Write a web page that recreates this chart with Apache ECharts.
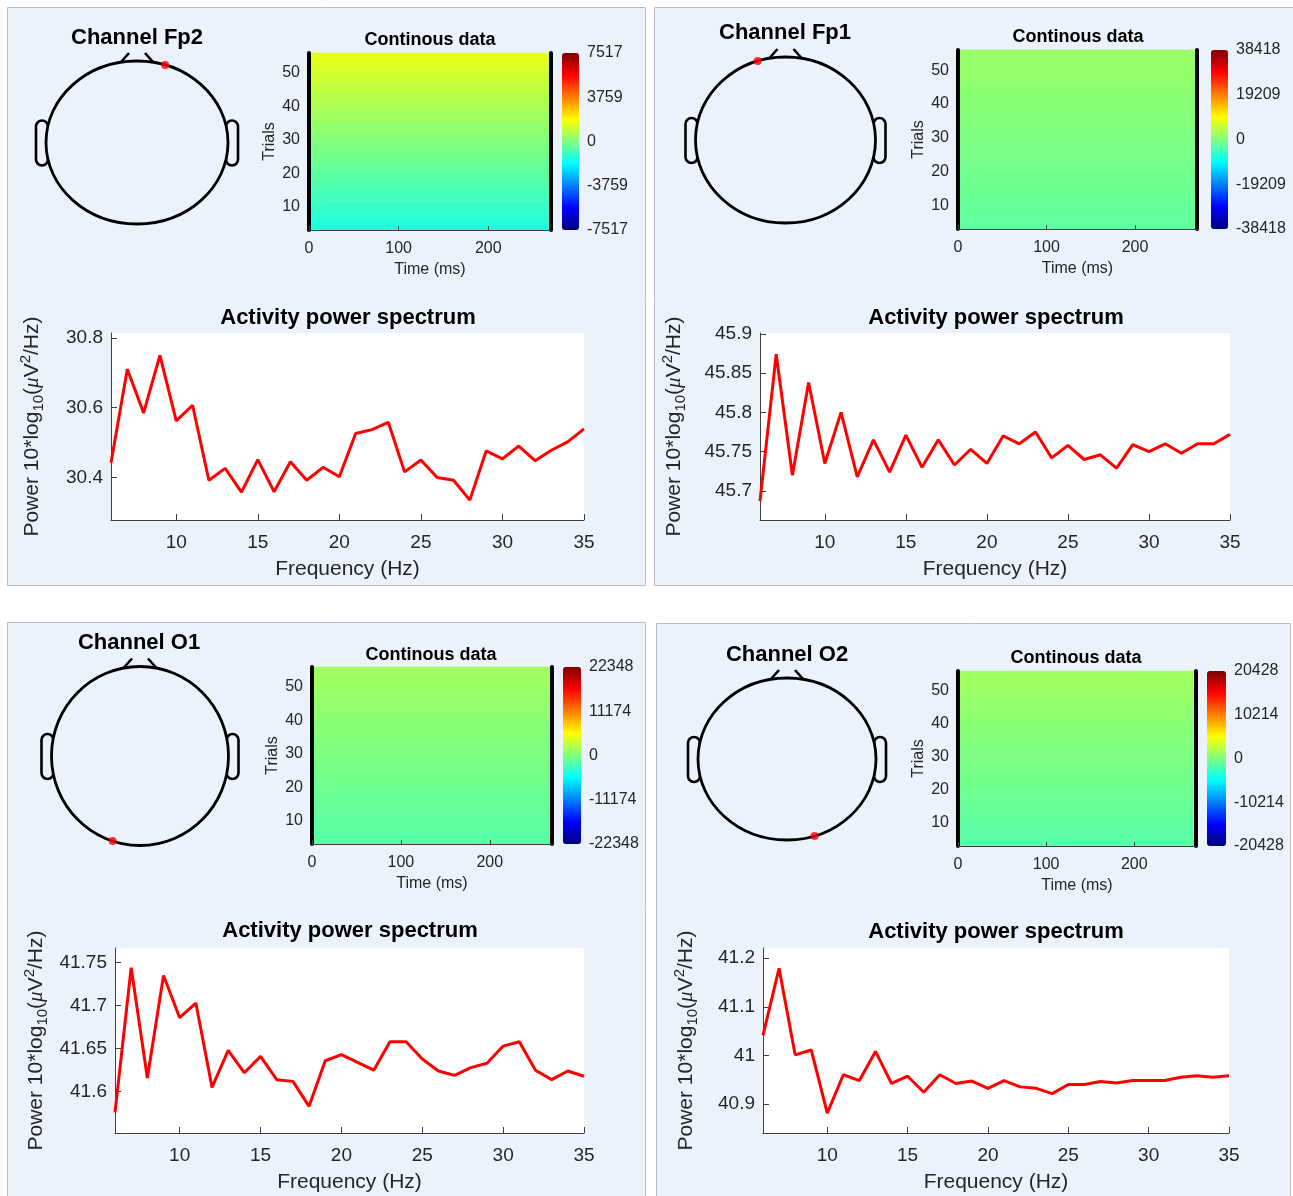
<!DOCTYPE html>
<html><head><meta charset="utf-8">
<script src="https://cdn.jsdelivr.net/npm/echarts@6/dist/echarts.min.js"></script>
<style>html,body{margin:0;padding:0;background:#fff}#c{width:1293px;height:1196px}</style>
</head><body><div id="c"></div><script>
// ---------------- data ----------------
const channels = ['Fp2', 'Fp1', 'O1', 'O2'];
const electrodeTheta = [18, -18, -162, 162];   // degrees, 0 = nose

const freqs = [6,7,8,9,10,11,12,13,14,15,16,17,18,19,20,21,22,23,24,25,26,27,28,29,30,31,32,33,34,35];
const freqTicks = [10, 15, 20, 25, 30, 35];

const powerFp2 = [30.442,30.710,30.585,30.750,30.562,30.607,30.392,30.426,30.358,30.451,30.359,30.445,30.392,30.429,30.402,30.526,30.537,30.558,30.416,30.450,30.400,30.392,30.335,30.476,30.453,30.490,30.448,30.478,30.502,30.539];
const powerFp1 = [45.687,45.874,45.720,45.838,45.735,45.800,45.718,45.765,45.724,45.771,45.730,45.765,45.733,45.753,45.735,45.770,45.760,45.775,45.742,45.758,45.740,45.746,45.729,45.759,45.750,45.760,45.748,45.760,45.760,45.772];
const powerO1  = [41.576,41.744,41.616,41.735,41.686,41.703,41.605,41.648,41.622,41.641,41.614,41.612,41.583,41.636,41.643,41.634,41.625,41.658,41.658,41.638,41.624,41.619,41.628,41.633,41.653,41.658,41.625,41.614,41.624,41.618];
const powerO2  = [41.041,41.179,41.001,41.011,40.881,40.960,40.948,41.008,40.942,40.957,40.924,40.960,40.942,40.947,40.932,40.948,40.935,40.932,40.921,40.940,40.940,40.946,40.943,40.948,40.948,40.948,40.955,40.958,40.955,40.958];

const powerRangeFp2 = [30.278, 30.814];  const powerTicksFp2 = [30.4, 30.6, 30.8];
const powerRangeFp1 = [45.663, 45.901];  const powerTicksFp1 = [45.7, 45.75, 45.8, 45.85, 45.9];
const powerRangeO1  = [41.552, 41.767];  const powerTicksO1  = [41.6, 41.65, 41.7, 41.75];
const powerRangeO2  = [40.840, 41.221];  const powerTicksO2  = [40.9, 41, 41.1, 41.2];

// continuous data image: rows of trials (bottom -> top), one time band
const trialRows = ['3','6','9','12','15','18','21','24','27','30','33','36','39','42','45','48','51','54'];
const timeBand = ['0-270'];
const trialRange = [3, 56];   const trialTicks = [10, 20, 30, 40, 50];
const timeRange = [0, 270];   const timeTicks = [0, 100, 200];

const heatFp2 = [-1400,-1230,-1060,-890,-720,-550,-380,-210,-40,130,300,470,640,810,980,1150,1320,1480];
const heatFp1 = [-2380,-2130,-1870,-1620,-1370,-1110,-860,-610,-350,-100,160,410,660,920,1170,1420,1680,1920];
const heatO1  = [-1740,-1550,-1360,-1180,-990,-800,-610,-430,-240,-50,140,330,510,700,890,1080,1260,1450];
const heatO2  = [-1590,-1420,-1250,-1070,-900,-730,-560,-390,-220,-40,130,300,470,640,810,990,1160,1330];

const colorLimits = [7517, 38418, 22348, 20428];
const cbTicksFp2 = [-7517, -3759, 0, 3759, 7517];
const cbTicksFp1 = [-38418, -19209, 0, 19209, 38418];
const cbTicksO1  = [-22348, -11174, 0, 11174, 22348];
const cbTicksO2  = [-20428, -10214, 0, 10214, 20428];

// ---------------- layout / style ----------------
const FONT = '"Liberation Sans", Arial, Helvetica, sans-serif';
const BG = '#ebf2fb';
const TXT = '#262626';
const jet = ['#00007f','#0000ff','#007fff','#00ffff','#7fff7f','#ffff00','#ff7f00','#ff0000','#7f0000'];

const layout = [
  { panel:[7,7,638,578],   ch:[137,38],  head:[137,142.5,91,81.5], heat:[309,53,242,177], heatT:[430,40],  cb:[562,53,17,177],  line:[111,333,473,187], lineT:[348,318], yGap:65 },
  { panel:[654,7,639,578], ch:[785,33],  head:[785.5,140,90,83],   heat:[958,50,239,179], heatT:[1078,37], cb:[1211,50,17,179], line:[760,333,470,187], lineT:[996,318], yGap:72 },
  { panel:[7,622,638,574], ch:[139,643], head:[140,756,88.5,89.5], heat:[312,667,240,177], heatT:[431,655], cb:[563,667,18,177], line:[115,948,469,185], lineT:[350,931], yGap:65 },
  { panel:[656,623,634,573], ch:[787,655], head:[787,759,89,81],   heat:[958,671,238,175], heatT:[1076,658], cb:[1207,671,19,175], line:[763,948,466,185], lineT:[996,932], yGap:63 }
];

const panels = [
  { power: powerFp2, range: powerRangeFp2, ticks: powerTicksFp2, heat: heatFp2, cbTicks: cbTicksFp2 },
  { power: powerFp1, range: powerRangeFp1, ticks: powerTicksFp1, heat: heatFp1, cbTicks: cbTicksFp1 },
  { power: powerO1,  range: powerRangeO1,  ticks: powerTicksO1,  heat: heatO1,  cbTicks: cbTicksO1 },
  { power: powerO2,  range: powerRangeO2,  ticks: powerTicksO2,  heat: heatO2,  cbTicks: cbTicksO2 }
];

const grid = [], xAxis = [], yAxis = [], series = [], visualMap = [], graphic = [];
const extraY = [];

function rectGrid(r, extra) {
  return Object.assign({ left: r[0], top: r[1], width: r[2], height: r[3], show: false, outerBoundsMode: 'none', containLabel: false }, extra || {});
}
function txt(x, y, text, font, z) {
  return { type: 'text', x: x, y: y, z: z || 10, silent: true,
    style: { text: text, fill: '#000', font: font, textAlign: 'center', textVerticalAlign: 'middle' } };
}
function plain(v) { return String(v); }

const yNameRich = {
  a: { fontSize: 21, lineHeight: 28, color: TXT, fontFamily: FONT },
  m: { fontSize: 21, lineHeight: 28, color: TXT, fontFamily: '"Liberation Serif", serif', fontStyle: 'italic' },
  s: { fontSize: 15, lineHeight: 15, color: TXT, fontFamily: FONT, verticalAlign: 'bottom' },
  p: { fontSize: 15, lineHeight: 15, color: TXT, fontFamily: FONT, verticalAlign: 'top' }
};

panels.forEach(function (P, p) {
  const Ly = layout[p];
  const base = p * 5;
  const lim = colorLimits[p];

  // --- grids
  grid.push(rectGrid(Ly.line, { show: true, backgroundColor: '#ffffff', borderWidth: 0 }));
  grid.push(rectGrid(Ly.heat));
  grid.push(rectGrid(Ly.heat));
  grid.push(rectGrid(Ly.cb));
  const h = Ly.head;
  grid.push(rectGrid([h[0] - h[2], h[1] - h[3], 2 * h[2], 2 * h[3]]));

  // --- power spectrum axes
  xAxis.push({ gridIndex: base, type: 'value', min: freqs[0], max: freqs[freqs.length - 1],
    axisLine: { show: true, onZero: false, lineStyle: { color: '#404040', width: 1 } },
    axisTick: { show: true, inside: true, length: 6, customValues: freqTicks, lineStyle: { color: '#404040' } },
    axisLabel: { customValues: freqTicks, margin: 13, fontSize: 19, color: TXT, fontFamily: FONT },
    splitLine: { show: false },
    name: 'Frequency (Hz)', nameLocation: 'middle', nameGap: 39,
    nameTextStyle: { fontSize: 21, color: TXT, fontFamily: FONT } });
  yAxis.push({ gridIndex: base, type: 'value', min: P.range[0], max: P.range[1],
    axisLine: { show: true, onZero: false, lineStyle: { color: '#404040', width: 1 } },
    axisTick: { show: true, inside: true, length: 6, customValues: P.ticks, lineStyle: { color: '#404040' } },
    axisLabel: { customValues: P.ticks, margin: 8, fontSize: 19, color: TXT, fontFamily: FONT },
    splitLine: { show: false },
    name: '{a|Power 10*log}{s|10}{a|(}{m|μ}{a|V}{p|2}{a|/Hz)}',
    nameLocation: 'middle', nameRotate: 90, nameGap: Ly.yGap,
    nameTextStyle: { color: TXT, fontFamily: FONT, rich: yNameRich } });

  // --- heatmap category axes (hidden)
  xAxis.push({ gridIndex: base + 1, type: 'category', data: timeBand, show: false });
  yAxis.push({ gridIndex: base + 1, type: 'category', data: trialRows, show: false });

  // --- heatmap value axes (visible ticks)
  xAxis.push({ gridIndex: base + 2, type: 'value', min: timeRange[0], max: timeRange[1], z: 5,
    axisLine: { show: true, onZero: false, lineStyle: { color: '#404040', width: 1 } },
    axisTick: { show: true, inside: true, length: 4, customValues: timeTicks, lineStyle: { color: '#404040' } },
    axisLabel: { customValues: timeTicks, margin: 11, fontSize: 16, color: TXT, fontFamily: FONT },
    splitLine: { show: false },
    name: 'Time (ms)', nameLocation: 'middle', nameGap: 32,
    nameTextStyle: { fontSize: 16, color: TXT, fontFamily: FONT } });
  yAxis.push({ gridIndex: base + 2, type: 'value', min: trialRange[0], max: trialRange[1], position: 'left', z: 5,
    axisLine: { show: true, onZero: false, lineStyle: { color: '#000', width: 4 } },
    axisTick: { show: false },
    axisLabel: { customValues: trialTicks, margin: 9, fontSize: 16, color: TXT, fontFamily: FONT },
    splitLine: { show: false },
    name: 'Trials', nameLocation: 'middle', nameRotate: 90, nameGap: 31,
    nameTextStyle: { fontSize: 16, color: TXT, fontFamily: FONT } });
  extraY.push({ gridIndex: base + 2, type: 'value', min: trialRange[0], max: trialRange[1], position: 'right', z: 5,
    axisLine: { show: true, onZero: false, lineStyle: { color: '#000', width: 4 } },
    axisTick: { show: false }, axisLabel: { show: false }, splitLine: { show: false } });

  // --- colorbar label axis
  xAxis.push({ gridIndex: base + 3, type: 'value', min: 0, max: 1, show: false });
  yAxis.push({ gridIndex: base + 3, type: 'value', min: -lim, max: lim, position: 'right',
    axisLine: { show: false }, axisTick: { show: false }, splitLine: { show: false },
    axisLabel: { customValues: P.cbTicks, formatter: plain, margin: 8, fontSize: 16, color: TXT, fontFamily: FONT } });

  // --- head axes (hidden)
  xAxis.push({ gridIndex: base + 4, type: 'value', min: -1, max: 1, show: false });
  yAxis.push({ gridIndex: base + 4, type: 'value', min: -1, max: 1, show: false });

  // --- series
  series.push({ type: 'line', xAxisIndex: base, yAxisIndex: base, silent: true,
    data: freqs.map(function (f, i) { return [f, P.power[i]]; }),
    symbol: 'none', lineStyle: { color: '#ff0000', width: 3 } });
  series.push({ type: 'heatmap', xAxisIndex: base + 1, yAxisIndex: base + 1, silent: true,
    data: P.heat.map(function (v, i) { return [0, i, v]; }) });
  const th = electrodeTheta[p] * Math.PI / 180;
  series.push({ type: 'scatter', xAxisIndex: base + 4, yAxisIndex: base + 4, silent: true, z: 10,
    data: [[Math.sin(th), Math.cos(th)]], symbolSize: 8, itemStyle: { color: '#ff0000' } });

  visualMap.push({ type: 'continuous', seriesIndex: p * 3 + 1, min: -lim, max: lim,
    calculable: false, hoverLink: false, orient: 'vertical', padding: 0,
    left: Ly.cb[0], top: Ly.cb[1], itemWidth: Ly.cb[2], itemHeight: Ly.cb[3],
    inRange: { color: jet } });

  // --- decorations: panel, head outline, titles
  const pr = Ly.panel;
  graphic.push({ type: 'rect', z: -10, silent: true, shape: { x: pr[0] + 0.5, y: pr[1] + 0.5, width: pr[2], height: pr[3] },
    style: { fill: BG, stroke: '#b9bdc4', lineWidth: 1 } });
  const cx = h[0], cy = h[1], rx = h[2], ry = h[3];
  [-1, 1].forEach(function (side) {
    const ex = side < 0 ? cx - rx - 10 : cx + rx - 2;
    graphic.push({ type: 'rect', z: 0, silent: true, shape: { x: ex, y: cy - 22, width: 12, height: 45, r: 6 },
      style: { fill: BG, stroke: '#000', lineWidth: 2.6 } });
    graphic.push({ type: 'line', z: 1, silent: true,
      shape: { x1: cx + side * 16, y1: cy - ry + 1, x2: cx + side * 8, y2: cy - ry - 8 },
      style: { stroke: '#000', lineWidth: 2.6 } });
  });
  graphic.push({ type: 'ellipse', z: 1, silent: true, shape: { cx: cx, cy: cy, rx: rx, ry: ry },
    style: { fill: BG, stroke: '#000', lineWidth: 2.8 } });

  graphic.push(txt(Ly.ch[0], Ly.ch[1], 'Channel ' + channels[p], 'bold 22px ' + FONT));
  graphic.push(txt(Ly.heatT[0], Ly.heatT[1], 'Continous data', 'bold 18px ' + FONT));
  graphic.push(txt(Ly.lineT[0], Ly.lineT[1], 'Activity power spectrum', 'bold 22px ' + FONT));
});

const option = {
  backgroundColor: '#ffffff',
  animation: false,
  grid: grid,
  xAxis: xAxis,
  yAxis: yAxis.concat(extraY),
  visualMap: visualMap,
  series: series,
  graphic: { elements: graphic }
};

const chart = echarts.init(document.getElementById('c'), null, { renderer: 'canvas' });
chart.setOption(option);
</script></body></html>
